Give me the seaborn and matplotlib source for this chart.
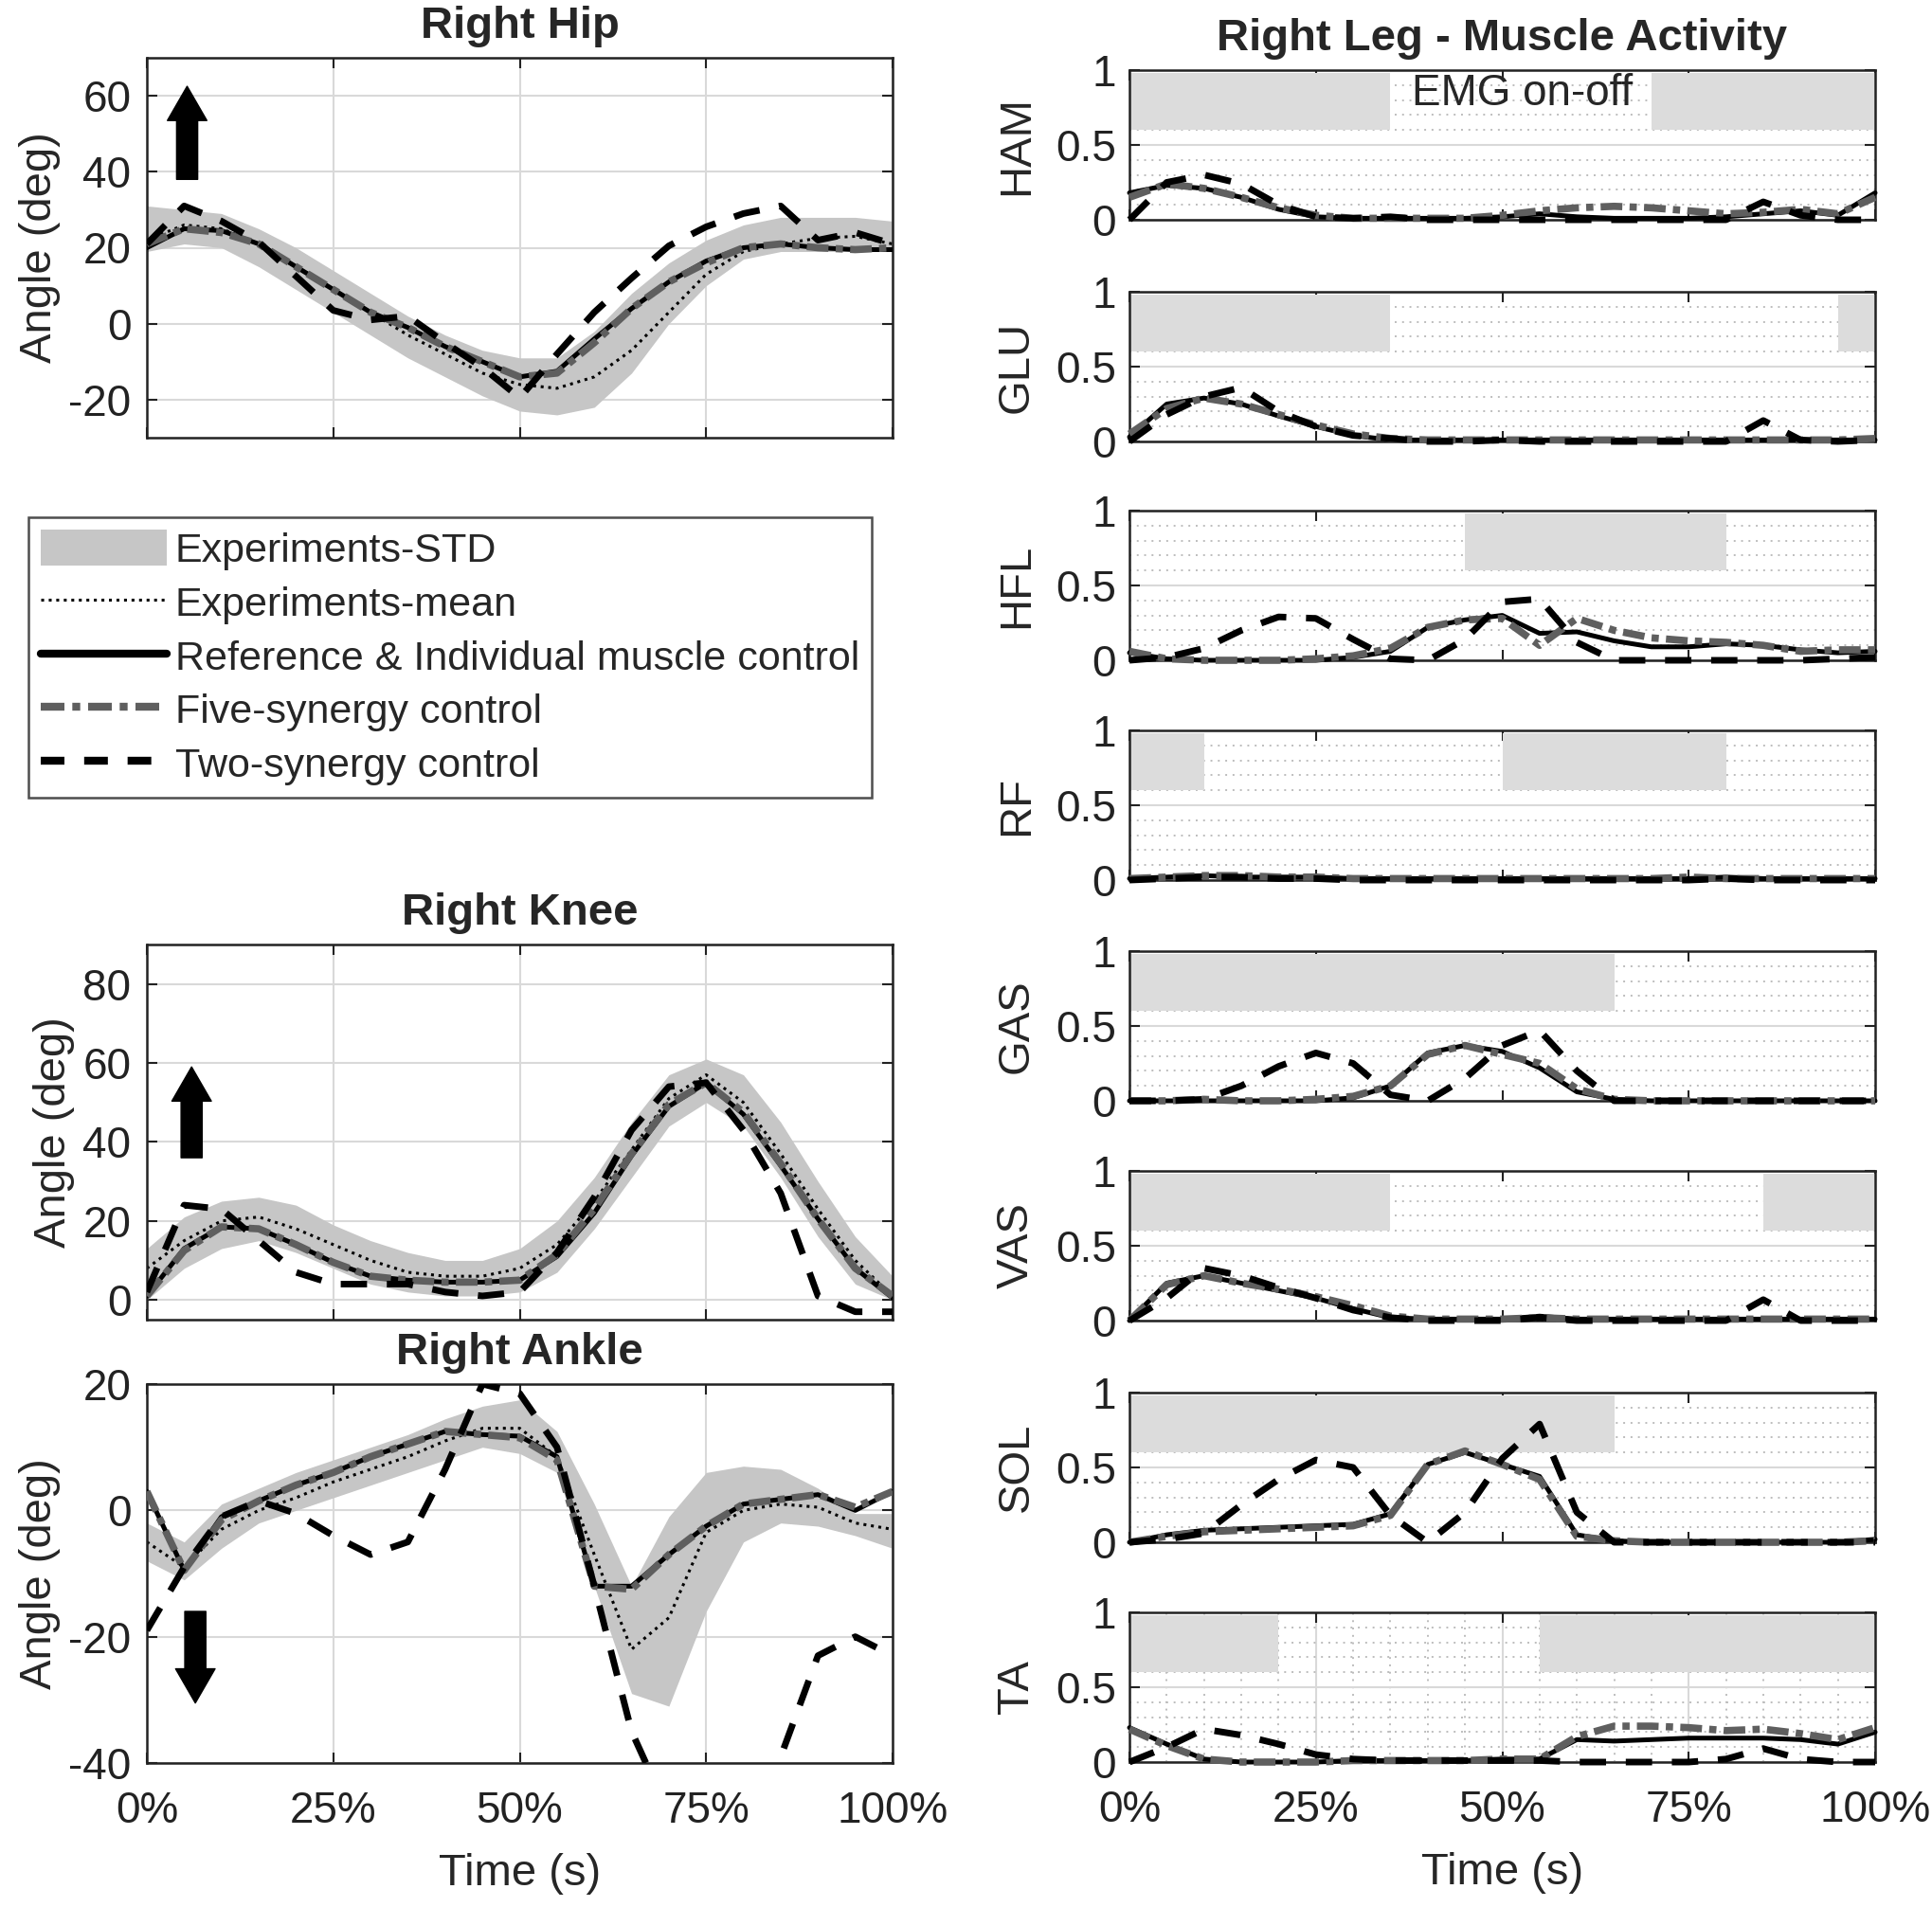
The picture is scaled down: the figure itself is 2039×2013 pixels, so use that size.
import matplotlib
matplotlib.use("Agg")
import matplotlib.pyplot as plt
from matplotlib.lines import Line2D
from matplotlib.patches import Patch
from matplotlib.ticker import MultipleLocator
import seaborn as sns

sns.set_theme(style="white")
plt.rcParams['font.family'] = ['Liberation Sans', 'DejaVu Sans']
plt.rcParams['axes.unicode_minus'] = False

# gait cycle, percent
time_pct = [0, 5, 10, 15, 20, 25, 30, 35, 40, 45, 50, 55, 60, 65, 70, 75, 80, 85, 90, 95, 100]

# ---- joint angles (deg) ----
hip_mean = [22, 26, 25, 21, 15, 9, 3, -3, -8, -13, -16, -17, -14, -7, 3, 13, 19, 21, 22.5, 23, 21]
hip_lo = [19, 21, 20, 15, 9, 3, -3, -9, -14, -19, -23, -24, -22, -13, 0, 10, 17, 19, 19, 19, 19]
hip_hi = [31, 30, 29, 25, 20, 14, 8, 2, -3, -7, -9, -9, -2, 8, 16, 22, 26, 28, 28, 28, 27]
hip_ref = [20, 25, 24.5, 21, 15, 9, 3, -1, -6, -10, -14, -12.5, -4, 4, 11, 16.5, 20, 21, 20, 19.5, 19.5]
hip_five = [21, 25, 24, 21, 15, 9, 3, -1, -6, -10, -14, -13, -5, 4, 11, 16, 20, 21, 20, 19.5, 20]
hip_two = [21, 31, 27, 21.5, 12.5, 3.5, 1, 2, -5, -11.5, -19.5, -8, 3, 12, 20.5, 25.5, 29, 31, 22, 24, 21]

knee_mean = [8, 15, 20, 21, 18, 14, 10, 7, 6, 6, 8, 14, 25, 38, 51, 57, 50, 37, 23, 10, 1]
knee_lo = [0, 8, 13, 15, 12, 8, 4, 2, 1, 1, 2, 7, 18, 31, 44, 50, 44, 31, 16, 4, 0]
knee_hi = [13, 21, 25, 26, 24, 19, 15, 12, 10, 10, 13, 20, 31, 45, 57, 61, 57, 45, 30, 16, 6]
knee_ref = [1, 13, 18.5, 18, 14, 9.5, 6, 5, 4.5, 4.5, 5, 11, 22, 36.5, 49, 55, 47, 34, 20.5, 8, 0.5]
knee_five = [1, 12.5, 18.5, 18, 14, 9.5, 6, 5, 4.5, 4.5, 5, 11.5, 23, 37, 49.5, 55, 47.5, 34.5, 20.5, 8, 1]
knee_two = [2, 24, 23, 15, 7, 4, 4, 4, 2, 1, 2, 12, 26, 43, 54, 55, 43, 27, 1, -3, -3]

ankle_mean = [-5, -9, -3, 0, 2, 4.5, 6.5, 8.5, 11, 13, 13, 8.5, -7, -22, -17, -3.5, 0, 1, 0.5, -2, -3]
ankle_lo = [-8, -11, -6, -2, 0, 2, 4, 6, 8, 10, 9, 6, -12, -29, -31, -16, -5, -2, -2.5, -4, -6]
ankle_hi = [-2, -5, 1, 3.5, 6, 8, 10, 12, 14.5, 16.5, 17.5, 12.5, 1, -12, -1, 6, 7, 6.5, 3.5, -0.5, -0.5]
ankle_ref = [3, -9.5, -1, 1.5, 4, 6, 8.5, 10.5, 12.5, 12, 11.75, 8.5, -12, -12, -7, -2.5, 1, 1.75, 2.5, 0, 3]
ankle_five = [3, -9.5, -1.5, 1.5, 4, 6, 8.5, 10.5, 12.5, 12, 11.5, 8, -12, -12.5, -7, -2.5, 1, 1.75, 2.5, 0.5, 3]
ankle_two = [-19, -9, -1, 1.5, -0.5, -4, -7, -5, 6.5, 20, 18.5, 10, -12, -35, -48, -55, -50, -39, -23, -20, -23]

# ---- muscle activity (0-1) ----
muscles = ["HAM", "GLU", "HFL", "RF", "GAS", "VAS", "SOL", "TA"]

ham_ref = [0.18, 0.23, 0.21, 0.15, 0.07, 0.02, 0.01, 0.01, 0.01, 0.01, 0.02, 0.04, 0.02, 0.01, 0.01, 0.01, 0.02, 0.04, 0.06, 0.03, 0.18]
ham_five = [0.15, 0.24, 0.21, 0.15, 0.08, 0.03, 0.01, 0.01, 0.01, 0.01, 0.03, 0.06, 0.08, 0.09, 0.08, 0.06, 0.04, 0.05, 0.07, 0.04, 0.15]
ham_two = [0.0, 0.25, 0.30, 0.24, 0.10, 0.02, 0.01, 0.02, 0.0, 0.0, 0.0, 0.0, 0.0, 0.0, 0.0, 0.0, 0.0, 0.12, 0.03, 0.0, 0.0]

glu_ref = [0.03, 0.25, 0.29, 0.25, 0.17, 0.10, 0.04, 0.01, 0.01, 0.01, 0.01, 0.01, 0.01, 0.01, 0.01, 0.01, 0.01, 0.01, 0.01, 0.01, 0.01]
glu_five = [0.05, 0.22, 0.29, 0.25, 0.18, 0.11, 0.05, 0.02, 0.01, 0.01, 0.01, 0.01, 0.01, 0.01, 0.01, 0.01, 0.01, 0.01, 0.01, 0.01, 0.02]
glu_two = [0.0, 0.18, 0.30, 0.36, 0.20, 0.10, 0.04, 0.02, 0.0, 0.0, 0.01, 0.0, 0.0, 0.0, 0.0, 0.0, 0.0, 0.14, 0.01, 0.0, 0.01]

hfl_ref = [0.05, 0.01, 0.0, 0.0, 0.0, 0.0, 0.02, 0.06, 0.22, 0.27, 0.30, 0.18, 0.19, 0.13, 0.09, 0.09, 0.11, 0.10, 0.07, 0.05, 0.06]
hfl_five = [0.06, 0.01, 0.0, 0.0, 0.0, 0.01, 0.03, 0.08, 0.22, 0.27, 0.28, 0.10, 0.28, 0.20, 0.15, 0.13, 0.12, 0.10, 0.06, 0.07, 0.07]
hfl_two = [0.0, 0.02, 0.08, 0.20, 0.29, 0.28, 0.14, 0.01, 0.0, 0.14, 0.39, 0.41, 0.12, 0.0, 0.0, 0.0, 0.0, 0.0, 0.0, 0.01, 0.02]

rf_ref = [0.01, 0.02, 0.03, 0.02, 0.02, 0.02, 0.01, 0.01, 0.01, 0.01, 0.01, 0.01, 0.01, 0.01, 0.01, 0.01, 0.02, 0.01, 0.01, 0.01, 0.01]
rf_five = [0.01, 0.02, 0.03, 0.03, 0.02, 0.02, 0.01, 0.01, 0.01, 0.01, 0.01, 0.01, 0.01, 0.01, 0.01, 0.02, 0.01, 0.01, 0.01, 0.01, 0.01]
rf_two = [0.0, 0.01, 0.02, 0.02, 0.01, 0.01, 0.0, 0.0, 0.0, 0.0, 0.0, 0.0, 0.0, 0.0, 0.0, 0.0, 0.01, 0.0, 0.0, 0.0, 0.0]

gas_ref = [0.0, 0.0, 0.0, 0.0, 0.0, 0.0, 0.02, 0.10, 0.32, 0.37, 0.33, 0.22, 0.06, 0.01, 0.0, 0.0, 0.0, 0.0, 0.0, 0.0, 0.0]
gas_five = [0.0, 0.0, 0.01, 0.0, 0.0, 0.01, 0.03, 0.10, 0.31, 0.37, 0.31, 0.25, 0.08, 0.01, 0.0, 0.0, 0.0, 0.0, 0.0, 0.0, 0.0]
gas_two = [0.0, 0.0, 0.01, 0.10, 0.23, 0.32, 0.25, 0.04, 0.0, 0.15, 0.37, 0.47, 0.20, 0.0, 0.0, 0.0, 0.0, 0.0, 0.0, 0.0, 0.0]

vas_ref = [0.0, 0.25, 0.30, 0.25, 0.20, 0.15, 0.08, 0.02, 0.01, 0.01, 0.01, 0.03, 0.01, 0.01, 0.01, 0.01, 0.01, 0.01, 0.01, 0.01, 0.01]
vas_five = [0.0, 0.24, 0.30, 0.25, 0.21, 0.16, 0.10, 0.03, 0.01, 0.01, 0.01, 0.02, 0.01, 0.01, 0.01, 0.01, 0.01, 0.01, 0.01, 0.01, 0.01]
vas_two = [0.0, 0.15, 0.35, 0.30, 0.22, 0.15, 0.07, 0.02, 0.0, 0.0, 0.0, 0.02, 0.0, 0.0, 0.0, 0.0, 0.0, 0.14, 0.0, 0.0, 0.0]

sol_ref = [0.0, 0.05, 0.08, 0.09, 0.10, 0.11, 0.12, 0.19, 0.52, 0.60, 0.52, 0.44, 0.05, 0.01, 0.0, 0.0, 0.0, 0.0, 0.0, 0.0, 0.02]
sol_five = [0.0, 0.04, 0.07, 0.08, 0.09, 0.10, 0.11, 0.18, 0.52, 0.61, 0.52, 0.42, 0.04, 0.01, 0.0, 0.0, 0.0, 0.0, 0.0, 0.0, 0.01]
sol_two = [0.0, 0.02, 0.06, 0.25, 0.42, 0.55, 0.50, 0.18, 0.0, 0.20, 0.56, 0.79, 0.20, 0.0, 0.0, 0.0, 0.0, 0.0, 0.0, 0.0, 0.0]

ta_ref = [0.23, 0.12, 0.02, 0.0, 0.0, 0.0, 0.01, 0.01, 0.01, 0.01, 0.02, 0.02, 0.15, 0.14, 0.15, 0.16, 0.16, 0.16, 0.15, 0.12, 0.20]
ta_five = [0.22, 0.11, 0.02, 0.0, 0.0, 0.0, 0.01, 0.01, 0.01, 0.01, 0.02, 0.02, 0.17, 0.24, 0.24, 0.23, 0.21, 0.22, 0.19, 0.15, 0.23]
ta_two = [0.0, 0.10, 0.22, 0.18, 0.12, 0.05, 0.02, 0.01, 0.01, 0.01, 0.01, 0.01, 0.0, 0.0, 0.0, 0.0, 0.02, 0.09, 0.02, 0.0, 0.0]

# EMG on-off windows (percent of cycle)
emg_on = {
    "HAM": [(0, 35), (70, 100)],
    "GLU": [(0, 35), (95, 100)],
    "HFL": [(45, 80)],
    "RF": [(0, 10), (50, 80)],
    "GAS": [(0, 65)],
    "VAS": [(0, 35), (85, 100)],
    "SOL": [(0, 65)],
    "TA": [(0, 20), (55, 100)],
}

muscle_data = {
    "HAM": (ham_ref, ham_five, ham_two),
    "GLU": (glu_ref, glu_five, glu_two),
    "HFL": (hfl_ref, hfl_five, hfl_two),
    "RF": (rf_ref, rf_five, rf_two),
    "GAS": (gas_ref, gas_five, gas_two),
    "VAS": (vas_ref, vas_five, vas_two),
    "SOL": (sol_ref, sol_five, sol_two),
    "TA": (ta_ref, ta_five, ta_two),
}

STD_GRAY = '#c6c6c6'
EMG_GRAY = '#dcdcdc'
FIVE_GRAY = '#5f5f5f'
GRID = '#d9d9d9'
TICK_FS = 33
LABEL_FS = 34

ref_style = dict(color='black', linewidth=3.6, linestyle='-')
five_style = dict(color=FIVE_GRAY, linewidth=5.5, linestyle=(0, (3, 1, 1, 1)))
two_style = dict(color='black', linewidth=5.0, linestyle=(0, (4, 3)))
mean_style = dict(color='black', linewidth=2.2, linestyle=(0, (1, 1.6)))

W, H = 2040, 2013
fig = plt.figure(figsize=(W / 100, H / 100), dpi=100)


def rect(x0, y0, x1, y1):
    # pixel box (top-left origin) -> figure fraction
    return [x0 / W, 1 - y1 / H, (x1 - x0) / W, (y1 - y0) / H]


def base_style(ax):
    for s in ax.spines.values():
        s.set_visible(True)
        s.set_color('#222222')
        s.set_linewidth(1.8)
    ax.tick_params(which='major', direction='in', length=8, width=1.5,
                   top=True, right=True, bottom=True, left=True,
                   labelsize=TICK_FS, colors='#222222')
    ax.tick_params(which='minor', length=0)
    ax.set_axisbelow(True)
    ax.set_xlim(0, 100)
    ax.set_xticks([0, 25, 50, 75, 100])
    ax.set_xlabel('')
    ax.set_ylabel('')


def angle_panel(ax, title, mean, lo, hi, ref, five, two, ylim, yticks, arrow, show_x):
    ax.fill_between(time_pct, lo, hi, color=STD_GRAY, linewidth=0, zorder=1)
    sns.lineplot(x=time_pct, y=mean, ax=ax, legend=False, zorder=2, **mean_style)
    sns.lineplot(x=time_pct, y=ref, ax=ax, legend=False, zorder=3, **ref_style)
    sns.lineplot(x=time_pct, y=five, ax=ax, legend=False, zorder=4, **five_style)
    sns.lineplot(x=time_pct, y=two, ax=ax, legend=False, zorder=5, **two_style)
    base_style(ax)
    ax.set_ylim(*ylim)
    ax.set_yticks(yticks)
    ax.grid(True, which='major', color=GRID, linewidth=1.5)
    ax.tick_params(axis='y', pad=12)
    ax.tick_params(axis='x', pad=21)
    if show_x:
        ax.set_xticklabels(['0%', '25%', '50%', '75%', '100%'])
        ax.set_xlabel('Time (s)', fontsize=LABEL_FS, labelpad=16)
    else:
        ax.set_xticklabels([])
    ax.set_ylabel('Angle (deg)', fontsize=LABEL_FS, labelpad=6)
    ax.set_title(title, fontsize=LABEL_FS, fontweight='bold', pad=15)
    (ax_x, tail, tip) = arrow
    ax.annotate('', xy=(ax_x, tip), xytext=(ax_x, tail),
                arrowprops=dict(arrowstyle='simple,head_length=0.65,head_width=0.75,tail_width=0.4',
                                fc='black', ec='black', shrinkA=0, shrinkB=0, mutation_scale=40),
                zorder=6)


# ---- left column ----
ax_hip = fig.add_axes(rect(155, 61, 942, 462))
angle_panel(ax_hip, 'Right Hip', hip_mean, hip_lo, hip_hi, hip_ref, hip_five, hip_two,
            (-30, 70), [-20, 0, 20, 40, 60], (5.4, 38, 62.5), False)

ax_knee = fig.add_axes(rect(155, 997, 942, 1393))
angle_panel(ax_knee, 'Right Knee', knee_mean, knee_lo, knee_hi, knee_ref, knee_five, knee_two,
            (-5, 90), [0, 20, 40, 60, 80], (6.0, 36, 59), False)

ax_ankle = fig.add_axes(rect(155, 1461, 942, 1861))
angle_panel(ax_ankle, 'Right Ankle', ankle_mean, ankle_lo, ankle_hi, ankle_ref, ankle_five, ankle_two,
            (-40, 20), [-40, -20, 0, 20], (6.5, -16, -30.5), True)

handles = [
    Patch(facecolor=STD_GRAY, edgecolor='none'),
    Line2D([], [], **mean_style),
    Line2D([], [], color='black', linewidth=6, linestyle='-'),
    Line2D([], [], color=FIVE_GRAY, linewidth=6, linestyle=(0, (3, 1, 1, 1))),
    Line2D([], [], color='black', linewidth=6, linestyle=(0, (3, 2.5))),
]
labels = ['Experiments-STD', 'Experiments-mean', 'Reference & Individual muscle control',
          'Five-synergy control', 'Two-synergy control']
leg = fig.legend(handles, labels, loc='upper left', bbox_to_anchor=(30 / W, 1 - 546 / H),
                 fontsize=31, frameon=True, fancybox=False, handlelength=3.1, handleheight=1.0,
                 handletextpad=0.2, labelspacing=0.32, borderpad=0.3, borderaxespad=0)
leg.get_frame().set_edgecolor('#222222')
leg.get_frame().set_linewidth(1.8)

# ---- right column ----
panel_tops = [74, 308, 539, 771, 1004, 1236, 1470, 1702]
for i, (name, top) in enumerate(zip(muscles, panel_tops)):
    ax = fig.add_axes(rect(1192, top, 1979, top + 158))
    for (a, b) in emg_on[name]:
        ax.axvspan(a, b, ymin=0.6, ymax=0.98, color=EMG_GRAY, linewidth=0, zorder=1)
    ref, five, two = muscle_data[name]
    sns.lineplot(x=time_pct, y=ref, ax=ax, legend=False, zorder=3, clip_on=False, **ref_style)
    sns.lineplot(x=time_pct, y=five, ax=ax, legend=False, zorder=4, clip_on=False, **five_style)
    sns.lineplot(x=time_pct, y=two, ax=ax, legend=False, zorder=5, clip_on=False, **two_style)
    base_style(ax)
    ax.set_ylim(0, 1)
    ax.set_yticks([0, 0.5, 1])
    ax.set_yticklabels(['0', '0.5', '1'])
    ax.yaxis.set_minor_locator(MultipleLocator(0.1))
    ax.grid(True, which='major', axis='y', color=GRID, linewidth=1.5)
    ax.grid(True, which='minor', axis='y', color='#bdbdbd', linewidth=1.4, linestyle=(0, (1, 3)))
    ax.tick_params(axis='y', pad=10)
    ax.tick_params(axis='x', pad=21)
    ax.set_ylabel(name, fontsize=LABEL_FS, labelpad=14)
    if name == 'TA':
        ax.xaxis.set_minor_locator(MultipleLocator(5))
        ax.grid(True, which='major', axis='x', color=GRID, linewidth=1.5)
        ax.grid(True, which='minor', axis='x', color='#bdbdbd', linewidth=1.4, linestyle=(0, (1, 3)))
        ax.set_xticklabels(['0%', '25%', '50%', '75%', '100%'])
        ax.set_xlabel('Time (s)', fontsize=LABEL_FS, labelpad=16)
    else:
        ax.set_xticklabels([])
    if name == 'HAM':
        ax.set_title('Right Leg - Muscle Activity', fontsize=LABEL_FS, fontweight='bold', pad=15)
        ax.text(52.7, 0.84, 'EMG on-off', ha='center', va='center', fontsize=33, zorder=6)

fig.savefig('out.png', dpi=100)
